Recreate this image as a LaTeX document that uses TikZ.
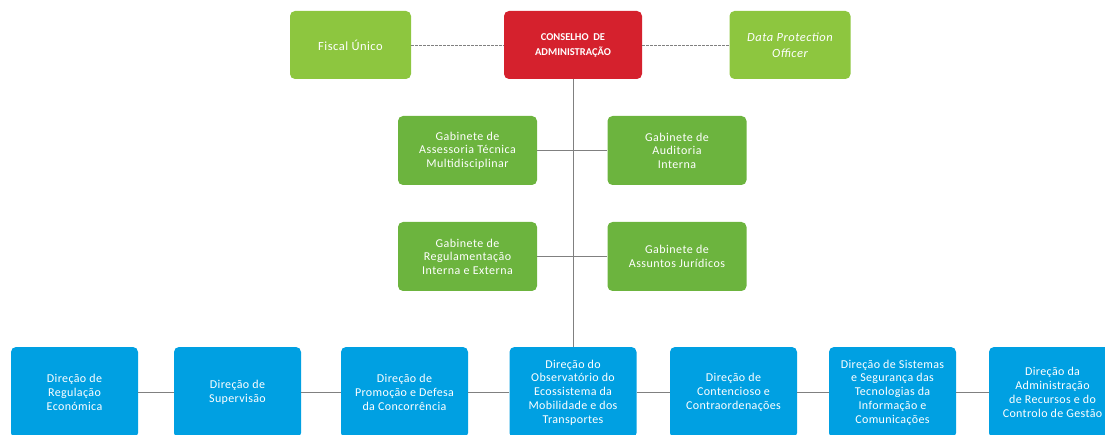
\documentclass[tikz,border=0pt]{standalone}
\usepackage{fontspec}
\setmainfont{Carlito}
\definecolor{topgreen}{RGB}{141,198,63}
\definecolor{gabgreen}{RGB}{108,180,62}
\definecolor{boardred}{RGB}{213,33,45}
\definecolor{dirblue}{RGB}{0,160,226}
\definecolor{linegray}{RGB}{128,128,128}
\tikzset{
  box/.style={rectangle, rounded corners=5pt, draw=none, text=white, align=center, inner sep=2pt},
  topbox/.style={box, fill=topgreen, minimum width=121pt, minimum height=68pt, font=\addfontfeature{LetterSpace=4}\fontsize{12.5}{16}\selectfont},
  boardbox/.style={box, fill=boardred, minimum width=138pt, minimum height=68pt, font=\bfseries\fontsize{10.5}{15}\selectfont},
  gabbox/.style={box, fill=gabgreen, minimum width=139pt, minimum height=69pt, font=\addfontfeature{LetterSpace=4}\fontsize{12}{13.6}\selectfont},
  dirbox/.style={box, fill=dirblue, minimum width=127pt, minimum height=91pt, font=\addfontfeature{LetterSpace=3}\fontsize{12}{13.8}\selectfont},
  conn/.style={draw=linegray, line width=0.9pt},
  dashconn/.style={draw=linegray, line width=0.8pt, dash pattern=on 2.5pt off 1.5pt}
}
\begin{document}
\begin{tikzpicture}[x=1pt, y=-1pt]
\useasboundingbox (0,0) rectangle (1105,435);
\begin{scope}
\clip (0,0) rectangle (1105,435);
% top row
\node[topbox] (fiscal) at (350.5,45) {Fiscal Único};
\node[boardbox] (board) at (573,45) {CONSELHO \ DE\\ADMINISTRAÇÃO};
\node[topbox] (dpo) at (790,45) {\itshape Data Protection\\\itshape Officer};
% gabinetes
\node[gabbox] (gab1) at (467.5,150.5) {Gabinete de\\Assessoria Técnica\\Multidisciplinar};
\node[gabbox] (gab2) at (677,150.5) {Gabinete de\\Auditoria\\Interna};
\node[gabbox] (gab3) at (467.5,256.5) {Gabinete de\\Regulamentação\\Interna e Externa};
\node[gabbox] (gab4) at (677,256.5) {Gabinete de\\Assuntos Jurídicos};
% direcoes
\node[dirbox] (d1) at (74.5,392.5) {Direção de\\Regulação\\Económica};
\node[dirbox] (d2) at (237.5,392.5) {Direção de\\Supervisão};
\node[dirbox] (d3) at (404.5,392.5) {Direção de\\Promoção e Defesa\\da Concorrência};
\node[dirbox] (d4) at (573,392.5) {Direção do\\Observatório do\\Ecossistema da\\Mobilidade e dos\\Transportes};
\node[dirbox] (d5) at (733.5,392.5) {Direção de\\Contencioso e\\Contraordenações};
\node[dirbox] (d6) at (892.5,392.5) {Direção de Sistemas\\e Segurança das\\Tecnologias da\\Informação e\\Comunicações};
\node[dirbox] (d7) at (1052.5,392.5) {Direção da\\Administração\\de Recursos e do\\Controlo de Gestão};
\end{scope}
% connectors
\draw[dashconn] (fiscal.east) -- (board.west);
\draw[dashconn] (board.east) -- (dpo.west);
\draw[conn] (board.south) -- (d4.north);
\draw[conn] (gab1.east) -- (gab2.west);
\draw[conn] (gab3.east) -- (gab4.west);
\draw[conn] (d1.east) -- (d2.west);
\draw[conn] (d2.east) -- (d3.west);
\draw[conn] (d3.east) -- (d4.west);
\draw[conn] (d4.east) -- (d5.west);
\draw[conn] (d5.east) -- (d6.west);
\draw[conn] (d6.east) -- (d7.west);
\end{tikzpicture}
\end{document}
